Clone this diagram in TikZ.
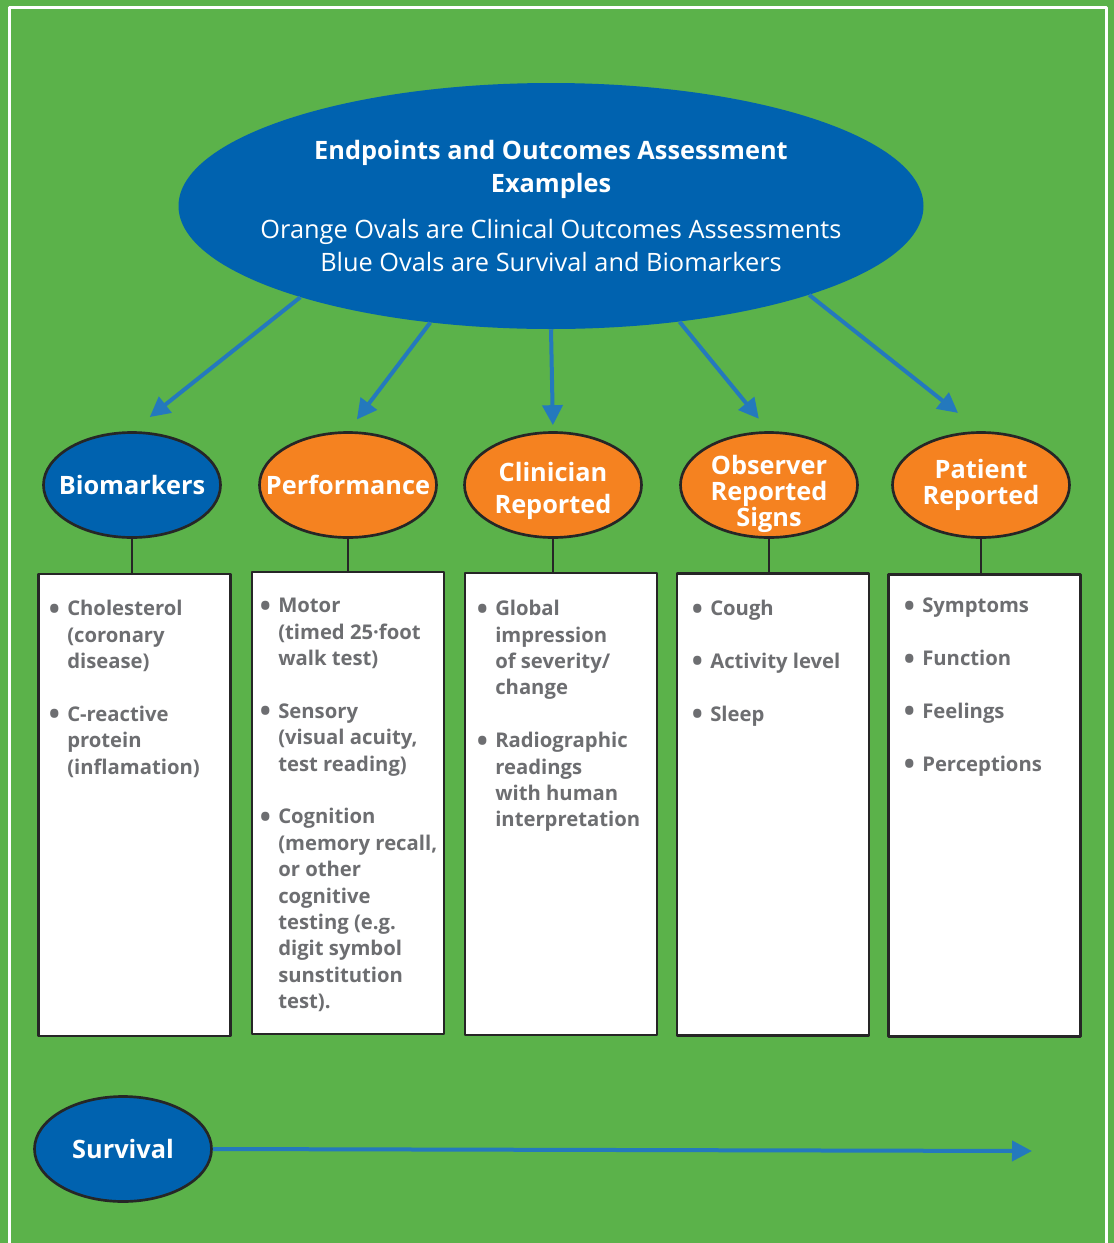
\documentclass[tikz,border=0pt]{standalone}
\usepackage{fontspec}
\setmainfont{Open Sans}
\usepackage{tikz}
\usetikzlibrary{arrows.meta,positioning,shapes}
\definecolor{bggreen}{RGB}{91,178,74}
\definecolor{ovalblue}{RGB}{0,98,175}
\definecolor{ovalorange}{RGB}{245,130,32}
\definecolor{arrowblue}{RGB}{36,121,189}
\definecolor{itemgray}{RGB}{109,110,113}
\newcommand{\bul}{\makebox[0pt][r]{\raisebox{-2.5pt}{\fontsize{22}{22}\selectfont\textbullet}\hspace{5.5pt}}}

\begin{document}
\begin{tikzpicture}[x=0.75pt,y=-0.75pt,>={Triangle[length=15pt,width=15pt]},
line join=round]
\tikzstyle{oval}=[ellipse,draw=black!85,line width=2pt,text=white,inner xsep=-16pt,inner ysep=-4pt,align=center,
  minimum width=132.75pt,minimum height=78.75pt,font=\bfseries\fontsize{19}{19.5}\selectfont]
\tikzstyle{ovaltext}=[text=white,inner sep=0pt,align=center,font=\bfseries\fontsize{19}{19.5}\selectfont]
\tikzstyle{itembox}=[rectangle,draw=black!85,line width=2pt,fill=white,minimum width=144pt,minimum height=346.5pt]
\tikzstyle{items}=[anchor=north west,inner sep=0pt,align=left,text=itemgray,
  font=\bfseries\fontsize{15.2}{19.8}\selectfont]
\tikzstyle{feed}=[->,arrowblue,line width=3pt]
\tikzstyle{stem}=[draw=black!85,line width=2pt]

\useasboundingbox (0,0) rectangle (1114,1243);
\fill[bggreen] (0,0) rectangle (1114,1243);
\draw[white,line width=2.25pt] (9,1243) -- (9,7) -- (1106,7) -- (1106,1243);

\node[ellipse,fill=ovalblue,text=white,inner xsep=-26pt,inner ysep=0pt,align=center,minimum width=558.75pt,minimum height=184.5pt,
  font=\fontsize{19}{24.75}\selectfont] (main) at (551,206)
  {\textbf{Endpoints and Outcomes Assessment}\\\textbf{Examples}\\[10pt]
   Orange Ovals are Clinical Outcomes Assessments\\Blue Ovals are Survival and Biomarkers};

\node[oval,fill=ovalblue]   (bio)  at (132,485) {Biomarkers};
\node[oval,fill=ovalorange] (perf) at (348,485) {Performance};
\node[oval,fill=ovalorange,label={[ovaltext,yshift=-4.5pt]center:{Clinician\\[5pt]Reported}}] (clin) at (553,485) {};
\node[oval,fill=ovalorange,label={[ovaltext,yshift=-6.5pt]center:{Observer\\Reported\\Signs}}] (obs) at (769,485) {};
\node[oval,fill=ovalorange] (pat)  at (981,485) {Patient\\Reported};
\node[oval,fill=ovalblue]   (surv) at (123,1149) {Survival};

\node[itembox] (box1) at (134.5,805) {};
\node[itembox] (box2) at (348,803) {};
\node[itembox] (box3) at (561,804) {};
\node[itembox] (box4) at (773,804.5) {};
\node[itembox] (box5) at (984.5,805.5) {};

\node[items] (list1) at (67,600) {\bul Cholesterol\\(coronary\\disease)\\ \\
  \bul C-reactive\\protein\\(inflamation)};
\node[items] (list2) at (278,598) {\bul Motor\\(timed 25·foot\\walk test)\\ \\
  \bul Sensory\\(visual acuity,\\test reading)\\ \\
  \bul Cognition\\(memory recall,\\or other\\cognitive\\testing (e.g.\\digit symbol\\sunstitution\\test).};
\node[items] (list3) at (495,600) {\bul Global\\impression\\of severity/\\change\\ \\
  \bul Radiographic\\readings\\with human\\interpretation};
\node[items] (list4) at (710,600) {\bul Cough\\ \\ \bul Activity level\\ \\ \bul Sleep};
\node[items] (list5) at (922,598) {\bul Symptoms\\ \\ \bul Function\\ \\ \bul Feelings\\ \\ \bul Perceptions};

\coordinate (survend) at (1032,1151);

\draw[feed,shorten >=17pt] (main.200) -- (bio.north);
\draw[feed,shorten >=11pt] (main.224) -- (perf.north);
\draw[feed,shorten >=4.5pt] (main.south) -- (clin.north);
\draw[feed,shorten >=12pt] (main.318) -- (obs.north);
\draw[feed,shorten >=22pt] (main.341) -- (pat.north);
\draw[feed] (surv.east) -- (survend);

\draw[stem] (bio.south)  -- (bio.south |- box1.north);
\draw[stem] (perf.south) -- (perf.south |- box2.north);
\draw[stem] (clin.south) -- (clin.south |- box3.north);
\draw[stem] (obs.south)  -- (obs.south |- box4.north);
\draw[stem] (pat.south)  -- (pat.south |- box5.north);

\end{tikzpicture}
\end{document}
